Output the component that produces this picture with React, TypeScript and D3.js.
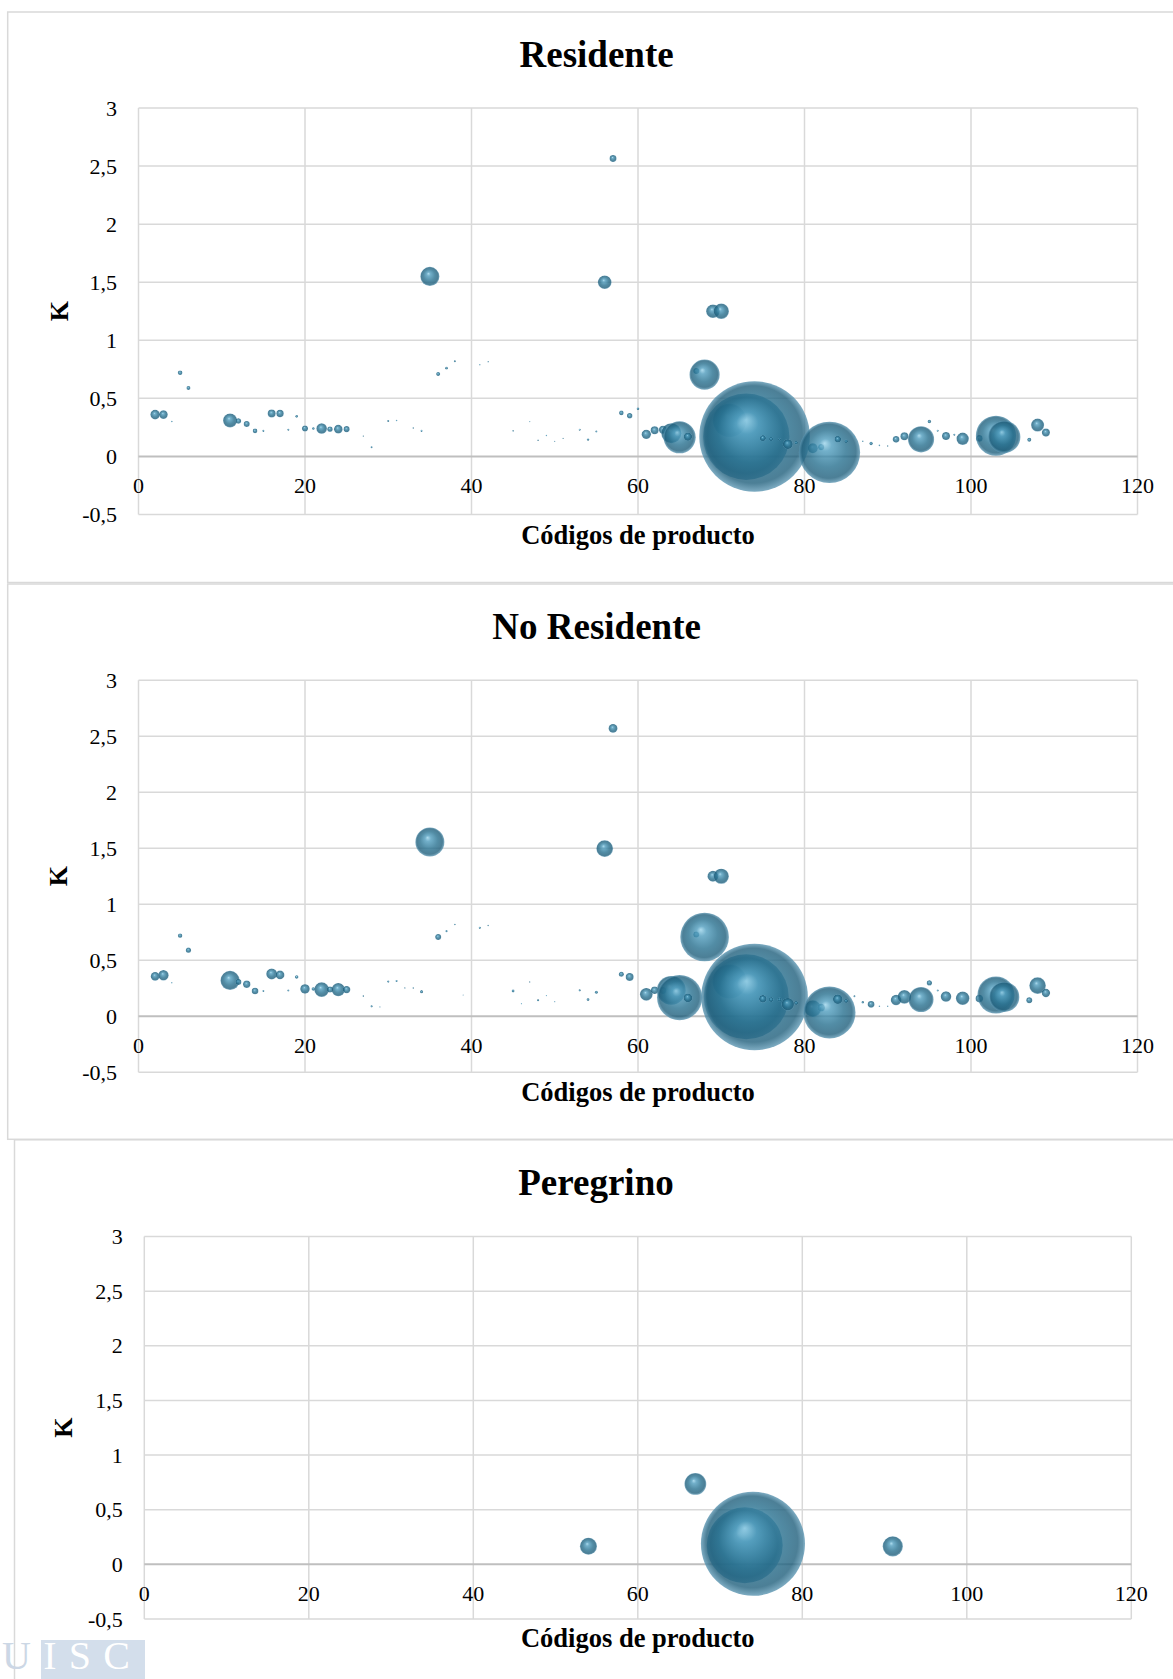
import React from "react";
import * as d3 from "d3";

// ---------- axes / labels ----------
const xTicks = [0, 20, 40, 60, 80, 100, 120];
const yTicks = [-0.5, 0, 0.5, 1, 1.5, 2, 2.5, 3];
const xTitle = "Códigos de producto";
const yTitle = "K";
const titles = ["Residente", "No Residente", "Peregrino"];

// ---------- Residente ----------
const residenteCodigo = [2, 3, 4, 5, 6, 11, 12, 13, 14, 15, 16, 17, 18, 19, 20, 21, 22, 23, 24, 25, 27, 28, 30, 31, 33, 34, 35, 36, 37, 38, 41, 42, 45, 47, 48, 49, 50, 51, 53, 54, 55, 56, 57, 58, 59, 60, 61, 62, 63, 64, 65, 66, 67, 68, 69, 70, 71, 73, 74, 75, 76, 77, 78, 79, 81, 82, 83, 84, 85, 86, 87, 88, 89, 90, 91, 92, 94, 95, 96, 97, 98, 99, 101, 103, 104, 107, 108, 109];
const residenteK = [0.36, 0.36, 0.3, 0.72, 0.59, 0.31, 0.305, 0.28, 0.22, 0.22, 0.37, 0.37, 0.23, 0.345, 0.24, 0.24, 0.24, 0.235, 0.235, 0.235, 0.175, 0.08, 0.305, 0.31, 0.245, 0.22, 1.55, 0.71, 0.76, 0.82, 0.79, 0.815, 0.22, 0.3, 0.14, 0.18, 0.13, 0.155, 0.23, 0.145, 0.215, 1.5, 2.565, 0.375, 0.35, 0.41, 0.19, 0.225, 0.23, 0.2, 0.165, 0.17, 0.735, 0.705, 1.25, 1.25, 0.31, 0.17, 0.172, 0.157, 0.15, 0.147, 0.105, 0.118, 0.07, 0.08, 0.035, 0.148, 0.13, 0.17, 0.13, 0.112, 0.095, 0.09, 0.147, 0.173, 0.147, 0.3, 0.222, 0.175, 0.187, 0.152, 0.155, 0.178, 0.168, 0.143, 0.27, 0.205];
const residenteTam = [23, 18.5, 0.6, 5.3, 4, 49, 7.3, 9, 5.3, 1, 16, 13.7, 1, 1.7, 9, 1.7, 28, 7.3, 18.5, 9, 0.5, 1, 1, 0.6, 0.6, 1, 90, 4, 1.7, 1, 0.5, 0.5, 0.6, 0.25, 0.6, 0.5, 0.25, 0.25, 1, 1.4, 1, 46, 12, 5.3, 7.3, 1.7, 22, 16, 16, 100, 256, 17.6, 9, 225, 46, 59, 275, 1849, 3025, 9, 4, 1.7, 25, 2.9, 25, 9, 930, 11, 2.9, 0.6, 0.6, 2.9, 0.6, 0.5, 11, 16, 169, 2.9, 1, 16, 1, 38, 11, 400, 256, 4, 42, 16];

// ---------- No Residente ----------
const noResidenteCodigo = [2, 3, 4, 5, 6, 11, 12, 13, 14, 15, 16, 17, 18, 19, 20, 21, 22, 23, 24, 25, 27, 28, 29, 30, 31, 32, 33, 34, 35, 36, 37, 38, 39, 41, 42, 45, 46, 47, 48, 49, 50, 53, 54, 55, 56, 57, 58, 59, 61, 62, 63, 64, 65, 66, 67, 68, 69, 70, 71, 73, 74, 75, 76, 77, 78, 79, 81, 82, 83, 84, 85, 86, 87, 88, 89, 90, 91, 92, 94, 95, 96, 97, 99, 101, 103, 104, 107, 108, 109];
const noResidenteK = [0.357, 0.366, 0.3, 0.72, 0.59, 0.32, 0.307, 0.286, 0.226, 0.226, 0.378, 0.369, 0.23, 0.351, 0.244, 0.244, 0.238, 0.238, 0.238, 0.238, 0.18, 0.089, 0.083, 0.31, 0.315, 0.253, 0.253, 0.22, 1.556, 0.708, 0.76, 0.82, 0.19, 0.79, 0.81, 0.226, 0.113, 0.306, 0.143, 0.185, 0.13, 0.232, 0.149, 0.214, 1.497, 2.57, 0.375, 0.351, 0.196, 0.232, 0.23, 0.232, 0.167, 0.164, 0.729, 0.708, 1.25, 1.25, 0.31, 0.174, 0.172, 0.155, 0.149, 0.149, 0.107, 0.119, 0.068, 0.077, 0.034, 0.152, 0.137, 0.178, 0.125, 0.107, 0.089, 0.089, 0.146, 0.173, 0.149, 0.298, 0.23, 0.176, 0.161, 0.158, 0.19, 0.173, 0.143, 0.274, 0.208];
const noResidenteTam = [19.4, 27, 0.5, 4.8, 6.8, 92, 9, 13.7, 11, 1, 30, 19.4, 1, 3.2, 23, 3.2, 55, 9, 45, 13.7, 0.6, 1.2, 0.4, 1.2, 1.2, 0.5, 0.6, 2.3, 210, 9, 1.2, 0.6, 0.25, 1.2, 0.5, 2, 0.25, 0.4, 1.2, 0.4, 0.25, 1.2, 2, 2.3, 70, 20, 6.3, 16, 41, 14.4, 12, 207, 510, 20, 9, 590, 30, 58, 289, 1806, 2841, 14.4, 5.3, 4, 41, 3.6, 69, 14.4, 676, 24, 3.6, 1, 1.4, 11.6, 0.6, 0.5, 28, 46, 156, 6.8, 1, 28, 46, 14.4, 346, 225, 9, 69, 17.6];

// ---------- Peregrino ----------
const peregrinoCodigo = [54, 67, 73, 74, 91];
const peregrinoK = [0.165, 0.736, 0.175, 0.188, 0.165];
const peregrinoTam = [74, 121, 1467, 2756, 104];

const fmt = d3
  .formatLocale({ decimal: ",", thousands: ".", grouping: [3], currency: ["", "€"], minus: "-" })
  .format(".1~f");

const FONT = "'Liberation Serif', 'Times New Roman', Times, serif";

type Layout = {
  boxX: number; boxY: number; boxY2: number;
  left: number; right: number; top: number; bottom: number;
  titleY: number; titleX: number; axisTitleY: number; kX: number;
};

const layouts: Layout[] = [
  { boxX: 7.7, boxY: 12, boxY2: 582.5, left: 138.5, right: 1137.5, top: 108, bottom: 514.5, titleY: 66.7, titleX: 596.6, axisTitleY: 544, kX: 59.5 },
  { boxX: 7.7, boxY: 584, boxY2: 1139.3, left: 138.5, right: 1137.5, top: 680.2, bottom: 1072.3, titleY: 639.3, titleX: 596.6, axisTitleY: 1100.5, kX: 58.5 },
  { boxX: 14.5, boxY: 1139.8, boxY2: 1720, left: 144.3, right: 1131.3, top: 1236.5, bottom: 1619, titleY: 1194.8, titleX: 596, axisTitleY: 1647, kX: 63.5 },
];

function Panel({ title, codigos, k, tam, L }: { title: string; codigos: number[]; k: number[]; tam: number[]; L: Layout }) {
  const x = d3.scaleLinear().domain([0, 120]).range([L.left, L.right]);
  const y = d3.scaleLinear().domain([-0.5, 3]).range([L.bottom, L.top]);
  const r = d3.scaleSqrt().domain([0, d3.max(tam) as number]).range([0, (L.bottom - L.top) * 0.136]);
  // drawn in data (code) order, as the spreadsheet does
  const pts = codigos.map((c, i) => ({ c, k: k[i], s: tam[i] }));
  return (
    <g>
      <rect x={L.boxX} y={L.boxY} width={1220 - L.boxX} height={L.boxY2 - L.boxY} fill="#fff" stroke="#d9d9d9" strokeWidth={1.5} />
      <text x={L.titleX} y={L.titleY} textAnchor="middle" fontFamily={FONT} fontWeight="bold" fontSize={37} fill="#000">{title}</text>
      {xTicks.map((t) => (
        <line key={"vx" + t} x1={x(t)} x2={x(t)} y1={y(3)} y2={y(-0.5)} stroke="#d9d9d9" strokeWidth={1.5} />
      ))}
      {yTicks.map((t) => (
        <line key={"hy" + t} x1={x(0)} x2={x(120)} y1={y(t)} y2={y(t)} stroke={t === 0 ? "#bfbfbf" : "#d9d9d9"} strokeWidth={t === 0 ? 2 : 1.5} />
      ))}
      {yTicks.map((t) => (
        <text key={"ly" + t} x={L.left - 21.5} y={y(t) + 7.5} textAnchor="end" fontFamily={FONT} fontSize={22} fill="#000">{fmt(t)}</text>
      ))}
      {xTicks.map((t) => (
        <text key={"lx" + t} x={x(t)} y={y(0) + 37} textAnchor="middle" fontFamily={FONT} fontSize={22} fill="#000">{fmt(t)}</text>
      ))}
      {pts.map((p) => (
        <circle key={"b" + p.c} cx={x(p.c)} cy={y(p.k)} r={Math.max(r(p.s), 0.6)} fill="url(#bub)" fillOpacity={0.8} />
      ))}
      <text x={(L.left + L.right) / 2} y={L.axisTitleY} textAnchor="middle" fontFamily={FONT} fontWeight="bold" fontSize={26.5} fill="#000">{xTitle}</text>
      <text transform={`translate(${L.kX},${(L.top + L.bottom) / 2}) rotate(-90)`} textAnchor="middle" dominantBaseline="central" fontFamily={FONT} fontWeight="bold" fontSize={26} fill="#000">{yTitle}</text>
    </g>
  );
}

export default function App() {
  return (
    <svg width={1173} height={1679} style={{ position: "absolute", left: 0, top: 0, overflow: "hidden", background: "#fff" }}>
      <defs>
        <radialGradient id="bub" cx="0.5" cy="0.5" r="0.5" fx="0.42" fy="0.35">
          <stop offset="0" stopColor="#9ad3ea" />
          <stop offset="0.2" stopColor="#4f9cbd" />
          <stop offset="0.6" stopColor="#27708f" />
          <stop offset="0.88" stopColor="#1f5f7c" />
          <stop offset="1" stopColor="#5d97b3" />
        </radialGradient>
        <clipPath id="logoClip">
          <rect x={41} y={1640} width={104} height={40} />
        </clipPath>
      </defs>
      <rect x={0} y={0} width={1173} height={1679} fill="#fff" />
      <Panel title={titles[0]} codigos={residenteCodigo} k={residenteK} tam={residenteTam} L={layouts[0]} />
      <Panel title={titles[1]} codigos={noResidenteCodigo} k={noResidenteK} tam={noResidenteTam} L={layouts[1]} />
      <Panel title={titles[2]} codigos={peregrinoCodigo} k={peregrinoK} tam={peregrinoTam} L={layouts[2]} />
      <g>
        <rect x={41} y={1640} width={104} height={40} fill="#d3deeb" />
        <text x={2} y={1669} fontFamily={FONT} fontSize={40} textLength={128} lengthAdjust="spacing" fill="#ccd7e5">UISC</text>
        <text x={2} y={1669} fontFamily={FONT} fontSize={40} textLength={128} lengthAdjust="spacing" fill="#ffffff" clipPath="url(#logoClip)">UISC</text>
      </g>
    </svg>
  );
}
